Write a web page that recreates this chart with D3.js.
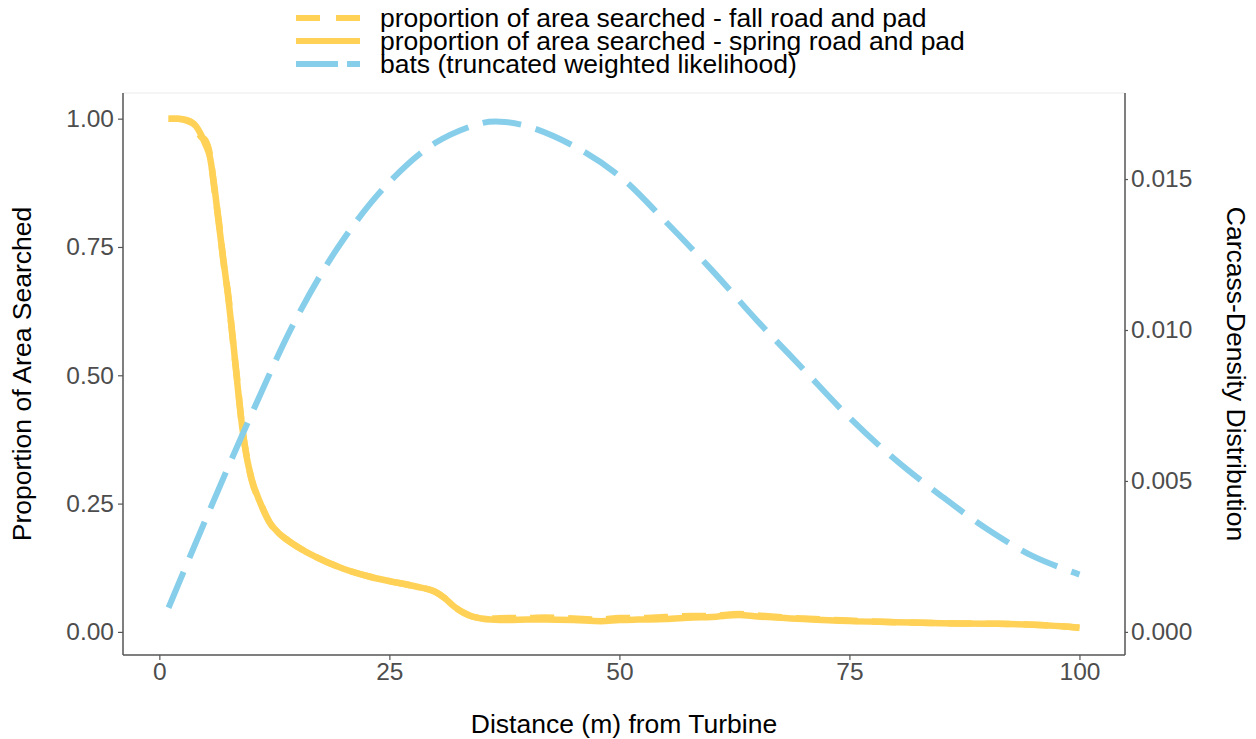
<!DOCTYPE html>
<html><head><meta charset="utf-8">
<script src="https://cdn.jsdelivr.net/npm/d3@7"></script>
<style>
body{margin:0;background:#fff;}
text{font-family:"Liberation Sans",Arial,sans-serif;}
</style></head>
<body><svg id="chart" width="1256" height="739"></svg>
<script>
// ---- data ----
const distYellow = [1,2,3,4,4.5,5,5.5,6,6.5,7,7.5,8,8.5,9,9.5,10,11,12,13,14,15,17,20,23,25,28,30,31,32,33,34,35,36,38,40,42,45,48,50,52,55,58,60,63,65,68,70,75,80,85,90,95,98,100];
const springVals = [1.0,1.0,0.997,0.985,0.97,0.95,0.925,0.865,0.79,0.72,0.65,0.57,0.48,0.40,0.34,0.30,0.25,0.213,0.192,0.178,0.166,0.146,0.123,0.107,0.099,0.088,0.078,0.066,0.05,0.038,0.03,0.026,0.024,0.023,0.024,0.024,0.023,0.021,0.023,0.024,0.025,0.028,0.029,0.033,0.03,0.027,0.025,0.021,0.019,0.017,0.016,0.014,0.011,0.008];
const fallVals = [1.0,1.0,0.996,0.983,0.965,0.958,0.93,0.86,0.795,0.716,0.655,0.566,0.485,0.398,0.342,0.298,0.251,0.213,0.192,0.178,0.166,0.146,0.123,0.107,0.099,0.088,0.078,0.066,0.05,0.038,0.03,0.027,0.026,0.027,0.027,0.028,0.026,0.024,0.027,0.027,0.029,0.031,0.031,0.035,0.032,0.028,0.026,0.022,0.019,0.017,0.016,0.014,0.011,0.008];
const distBats = [1,5,10,15,20,25,30,35,37,40,45,50,55,60,65,70,75,80,85,90,95,100];
const batVals = [0.0008,0.0037,0.0072,0.01045,0.0130,0.0149,0.0162,0.01685,0.0169,0.01675,0.0161,0.0151,0.0136,0.0120,0.0103,0.0087,0.0071,0.0057,0.0045,0.0034,0.0025,0.0019];
const xTicks = [0,25,50,75,100];
const yLeftTicks = [0,0.25,0.5,0.75,1.0];
const yRightTicks = [0,0.005,0.010,0.015];
const secFactor = 0.017;
const legendLabels = ["proportion of area searched - fall road and pad","proportion of area searched - spring road and pad","bats (truncated weighted likelihood)"];

// ---- layout ----
const svg = d3.select("#chart");
const L = 123, R = 1125, T = 93, B = 655;
const yellow = "#FFD257", blue = "#87CEEB";
const axisGray = "#555", tickText = "#4d4d4d";

const x = d3.scaleLinear().domain([-3.95,104.95]).range([L,R]);
const yL = d3.scaleLinear().domain([-0.045,1.05]).range([B,T]);
const yR = d3.scaleLinear().domain([-0.045*secFactor,1.05*secFactor]).range([B,T]);

// top border (light)
svg.append("line").attr("x1",L).attr("x2",R).attr("y1",T).attr("y2",T).attr("stroke","#ebebeb").attr("stroke-width",1);

const line = d3.line().curve(d3.curveMonotoneX);

// fall (dashed) under spring (solid)
svg.append("path").attr("d", line(distYellow.map((d,i)=>[x(d),yL(fallVals[i])])))
  .attr("fill","none").attr("stroke",yellow).attr("stroke-width",6.5).attr("stroke-dasharray","24,14");
svg.append("path").attr("d", line(distYellow.map((d,i)=>[x(d),yL(springVals[i])])))
  .attr("fill","none").attr("stroke",yellow).attr("stroke-width",6.5).attr("stroke-linejoin","round");
svg.append("path").attr("d", d3.line().curve(d3.curveCatmullRom)(distBats.map((d,i)=>[x(d),yR(batVals[i])])))
  .attr("fill","none").attr("stroke",blue).attr("stroke-width",6).attr("stroke-dasharray","39,15");

// axes
function styleAxis(g){
  g.select(".domain").attr("stroke",axisGray).attr("stroke-width",1.5);
  g.selectAll(".tick line").attr("stroke",axisGray).attr("stroke-width",1.2);
  g.selectAll(".tick text").attr("fill",tickText).style("font-size","24.5px").style("font-family","'Liberation Sans',Arial,sans-serif");
}
const gx = svg.append("g").attr("transform",`translate(0,${B})`)
  .call(d3.axisBottom(x).tickValues(xTicks).tickSize(5).tickPadding(3).tickSizeOuter(0).tickFormat(d3.format("d")));
styleAxis(gx);
gx.select(".domain").attr("d",`M${L},0H${R}`);
const gl = svg.append("g").attr("transform",`translate(${L},0)`)
  .call(d3.axisLeft(yL).tickValues(yLeftTicks).tickSize(5).tickPadding(4).tickSizeOuter(0).tickFormat(d3.format(".2f")));
styleAxis(gl);
gl.select(".domain").attr("d",`M0,${T}V${B}`);
const gr = svg.append("g").attr("transform",`translate(${R},0)`)
  .call(d3.axisRight(yR).tickValues(yRightTicks).tickSize(3).tickPadding(3).tickSizeOuter(0).tickFormat(d3.format(".3f")));
styleAxis(gr);
gr.select(".domain").attr("d",`M0,${T}V${B}`);

// axis titles
svg.append("text").attr("x",(L+R)/2).attr("y",733).attr("text-anchor","middle")
  .style("font-size","26.5px").attr("fill","#000").text("Distance (m) from Turbine");
svg.append("text").attr("transform",`translate(31,${(T+B)/2}) rotate(-90)`).attr("text-anchor","middle")
  .style("font-size","26.5px").attr("fill","#000").text("Proportion of Area Searched");
svg.append("text").attr("transform",`translate(1227,${(T+B)/2}) rotate(90)`).attr("text-anchor","middle")
  .style("font-size","26.5px").attr("fill","#000").text("Carcass-Density Distribution");

// legend
const legY = [18,41,64];
const legStyles = [{c:yellow,dash:"24,16"},{c:yellow,dash:null},{c:blue,dash:"42,9"}];
legendLabels.forEach((lab,i)=>{
  const ln = svg.append("line").attr("x1",296).attr("x2",360).attr("y1",legY[i]).attr("y2",legY[i])
    .attr("stroke",legStyles[i].c).attr("stroke-width",6);
  if(legStyles[i].dash) ln.attr("stroke-dasharray",legStyles[i].dash);
  svg.append("text").attr("x",380).attr("y",legY[i]+9).style("font-size","26.5px").attr("fill","#000").text(lab);
});
</script></body></html>
